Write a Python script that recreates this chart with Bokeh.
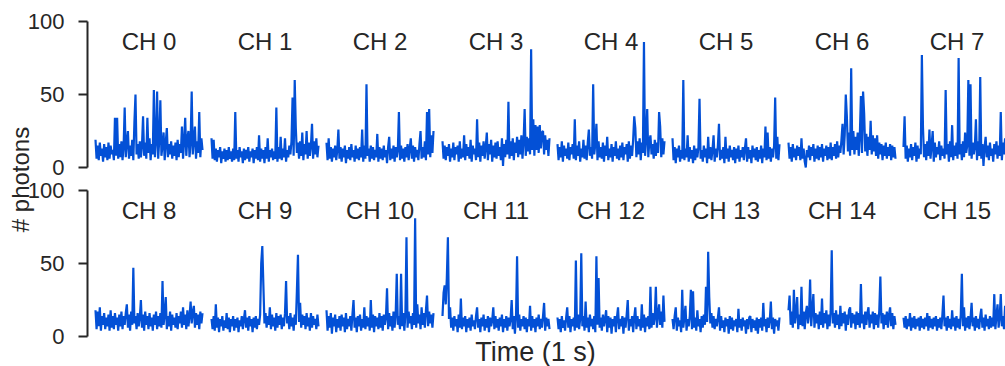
from bokeh.plotting import figure
from bokeh.models import Range1d, FixedTicker, Label, LinearAxis
from bokeh.embed import file_html
from bokeh.resources import INLINE

# ---------------- data (photon counts per time bin) ----------------
channels = ["CH 0", "CH 1", "CH 2", "CH 3", "CH 4", "CH 5", "CH 6", "CH 7",
            "CH 8", "CH 9", "CH 10", "CH 11", "CH 12", "CH 13", "CH 14", "CH 15"]

ch0 = [19, 6, 15, 5, 17, 8, 13, 4, 16, 7, 14, 5, 17, 6, 15, 9, 12, 5, 34, 8,
       34, 6, 16, 7, 18, 5, 14, 41, 7, 17, 25, 6, 15, 8, 19, 5, 31, 50, 9, 16,
       6, 18, 7, 15, 35, 8, 17, 6, 34, 10, 20, 5, 16, 9, 53, 7, 18, 52, 6, 19,
       46, 8, 15, 24, 5, 17, 27, 7, 16, 9, 18, 6, 15, 8, 17, 5, 19, 7, 16, 10,
       28, 6, 18, 34, 8, 20, 25, 7, 17, 52, 9, 19, 28, 6, 18, 10, 38, 7, 20, 12]
ch1 = [20, 6, 19, 5, 13, 4, 12, 7, 14, 3, 11, 6, 13, 4, 12, 5, 14, 6, 11, 4,
       13, 5, 38, 6, 12, 4, 14, 7, 11, 3, 13, 5, 12, 6, 14, 4, 11, 7, 13, 3,
       12, 6, 14, 5, 22, 4, 13, 6, 12, 3, 14, 6, 20, 4, 12, 7, 13, 5, 11, 6,
       41, 4, 14, 6, 21, 5, 13, 7, 20, 4, 12, 7, 15, 9, 18, 48, 8, 60, 27, 10,
       17, 6, 18, 8, 24, 5, 16, 9, 25, 6, 17, 8, 15, 30, 6, 18, 9, 20, 7, 15]
ch2 = [17, 5, 20, 6, 14, 4, 13, 7, 15, 5, 12, 26, 6, 14, 4, 13, 7, 15, 3, 12,
       6, 14, 5, 16, 7, 12, 4, 15, 6, 13, 5, 14, 7, 26, 4, 15, 6, 57, 8, 13,
       4, 15, 6, 14, 5, 12, 7, 23, 4, 14, 6, 13, 5, 15, 7, 12, 3, 14, 21, 5,
       13, 6, 15, 4, 14, 7, 12, 38, 5, 15, 6, 13, 4, 14, 7, 16, 5, 13, 20, 6,
       15, 4, 14, 7, 12, 5, 16, 25, 6, 14, 7, 18, 5, 38, 9, 40, 7, 22, 10, 25]
ch3 = [18, 6, 15, 5, 14, 8, 16, 4, 13, 7, 17, 5, 14, 9, 15, 4, 18, 6, 13, 7,
       22, 5, 16, 8, 14, 6, 19, 4, 15, 9, 13, 5, 33, 7, 17, 4, 15, 8, 18, 6,
       14, 24, 5, 16, 9, 19, 4, 15, 7, 17, 6, 18, 8, 14, 5, 20, 1, 16, 7, 19,
       9, 45, 6, 18, 8, 20, 5, 17, 10, 21, 7, 19, 9, 22, 6, 18, 40, 8, 21, 11,
       20, 9, 81, 12, 33, 8, 29, 12, 28, 10, 29, 13, 24, 25, 9, 22, 12, 19, 8, 20]
ch4 = [16, 5, 14, 7, 18, 4, 15, 8, 13, 6, 17, 5, 14, 9, 16, 6, 33, 5, 15, 8,
       18, 4, 13, 7, 19, 6, 15, 5, 17, 26, 8, 14, 6, 57, 9, 16, 30, 5, 18, 7,
       14, 6, 17, 4, 15, 8, 21, 5, 13, 7, 16, 4, 14, 8, 18, 6, 13, 5, 15, 7,
       17, 5, 14, 9, 16, 4, 18, 6, 15, 8, 19, 35, 27, 7, 18, 9, 20, 5, 17, 10,
       86, 8, 19, 40, 7, 18, 22, 9, 16, 6, 19, 8, 17, 10, 38, 28, 7, 20, 9, 18]
ch5 = [20, 5, 14, 3, 13, 7, 15, 4, 12, 6, 60, 5, 13, 7, 22, 4, 14, 6, 12, 3,
       15, 5, 13, 7, 14, 47, 6, 12, 4, 15, 7, 13, 3, 21, 6, 14, 5, 12, 22, 4,
       13, 7, 15, 30, 5, 12, 6, 14, 3, 21, 6, 13, 4, 15, 7, 12, 5, 14, 3, 13,
       6, 15, 4, 12, 7, 14, 5, 13, 20, 4, 14, 6, 12, 3, 15, 7, 13, 5, 14, 4,
       12, 6, 15, 3, 13, 7, 28, 5, 24, 6, 14, 4, 13, 7, 15, 48, 6, 21, 5, 16]
ch6 = [17, 6, 14, 4, 16, 7, 13, 5, 15, 8, 14, 5, 20, 6, 13, 4, 0, 12, 7, 15,
       5, 14, 8, 16, 4, 13, 6, 15, 5, 14, 7, 16, 4, 13, 8, 15, 5, 14, 6, 17,
       5, 14, 8, 16, 6, 18, 7, 15, 10, 19, 30, 9, 22, 50, 35, 11, 24, 8, 68, 12,
       25, 9, 21, 12, 24, 8, 22, 49, 10, 52, 37, 11, 23, 8, 21, 12, 32, 9, 22, 11,
       20, 8, 22, 6, 17, 9, 16, 5, 15, 8, 17, 6, 14, 8, 16, 5, 15, 7, 14, 6]
ch7 = [14, 35, 6, 15, 4, 13, 7, 16, 5, 14, 8, 17, 4, 15, 6, 13, 9, 77, 28, 7,
       16, 5, 18, 8, 26, 6, 15, 25, 4, 17, 7, 14, 9, 18, 5, 15, 8, 13, 6, 53,
       9, 16, 4, 18, 7, 29, 5, 15, 8, 17, 6, 75, 9, 16, 5, 18, 7, 24, 10, 15,
       60, 8, 57, 6, 17, 9, 14, 33, 5, 18, 8, 62, 6, 16, 1, 14, 21, 7, 15, 5,
       17, 8, 13, 4, 16, 9, 18, 6, 15, 8, 38, 5, 17, 9, 20, 7, 16, 8, 18, 6]
ch8 = [18, 5, 17, 7, 20, 4, 14, 8, 16, 5, 13, 7, 15, 4, 18, 6, 14, 5, 16, 8,
       13, 4, 15, 7, 17, 5, 14, 8, 16, 22, 6, 15, 4, 17, 8, 47, 9, 14, 5, 16,
       7, 13, 25, 6, 15, 4, 17, 8, 14, 5, 16, 7, 13, 4, 15, 8, 17, 5, 14, 7,
       16, 6, 38, 8, 15, 27, 5, 14, 7, 17, 4, 15, 8, 13, 6, 16, 5, 14, 9, 17,
       6, 20, 8, 15, 5, 18, 7, 14, 24, 9, 17, 21, 6, 16, 8, 15, 5, 17, 9, 16]
ch9 = [12, 5, 14, 4, 22, 6, 13, 3, 12, 7, 14, 4, 11, 6, 16, 5, 13, 3, 12, 7,
       14, 4, 12, 6, 13, 3, 11, 7, 14, 5, 12, 18, 6, 13, 4, 14, 7, 12, 3, 13,
       6, 14, 5, 12, 8, 15, 50, 62, 35, 9, 16, 6, 14, 8, 20, 5, 15, 7, 13, 4,
       16, 6, 14, 8, 15, 5, 13, 7, 16, 38, 9, 14, 5, 16, 7, 13, 4, 15, 8, 31,
       56, 10, 23, 6, 15, 8, 14, 5, 16, 7, 13, 4, 16, 6, 14, 8, 12, 5, 15, 7]
ch10 = [18, 4, 14, 6, 16, 2, 13, 7, 15, 3, 12, 6, 14, 4, 15, 7, 13, 3, 16, 5,
        12, 7, 14, 4, 15, 25, 6, 13, 3, 14, 7, 15, 4, 12, 6, 20, 5, 14, 7, 13,
        4, 25, 6, 15, 3, 14, 7, 13, 5, 16, 6, 14, 4, 15, 8, 13, 33, 5, 16, 7,
        14, 4, 17, 6, 15, 43, 8, 14, 5, 43, 7, 16, 4, 15, 68, 6, 17, 9, 14, 5,
        16, 8, 81, 6, 22, 9, 15, 5, 20, 8, 16, 6, 18, 28, 7, 17, 9, 15, 6, 16]
ch11 = [14, 30, 35, 22, 40, 68, 12, 20, 6, 13, 4, 14, 7, 12, 3, 15, 6, 26, 5, 13,
        7, 14, 3, 12, 6, 13, 4, 15, 7, 11, 5, 14, 20, 6, 12, 3, 13, 7, 15, 4,
        12, 6, 14, 3, 13, 7, 11, 20, 5, 14, 6, 12, 4, 13, 7, 15, 3, 12, 6, 14,
        4, 13, 7, 12, 25, 5, 14, 2, 13, 55, 6, 15, 4, 12, 7, 14, 5, 13, 3, 12,
        7, 21, 4, 14, 6, 12, 3, 13, 7, 15, 5, 12, 6, 14, 23, 4, 13, 7, 12, 5]
ch12 = [13, 5, 12, 3, 14, 6, 11, 4, 13, 20, 6, 14, 3, 12, 7, 13, 4, 52, 6, 15,
        5, 12, 57, 7, 14, 4, 24, 6, 13, 3, 15, 7, 12, 5, 14, 3, 55, 8, 40, 6,
        13, 4, 15, 7, 12, 18, 3, 14, 6, 13, 2, 12, 7, 14, 3, 13, 20, 5, 12, 7,
        14, 2, 13, 6, 15, 25, 4, 12, 7, 14, 3, 13, 20, 5, 14, 7, 12, 4, 22, 6,
        15, 3, 13, 7, 14, 5, 34, 6, 16, 8, 13, 34, 6, 15, 22, 8, 17, 6, 28, 10]
ch13 = [12, 5, 14, 20, 4, 13, 7, 11, 3, 32, 6, 13, 21, 4, 12, 7, 14, 32, 5, 31,
        6, 13, 4, 18, 7, 12, 3, 14, 6, 15, 8, 34, 10, 58, 27, 9, 16, 6, 14, 5,
        12, 7, 13, 20, 4, 14, 6, 11, 3, 13, 7, 12, 2, 14, 5, 13, 4, 11, 7, 12,
        3, 19, 6, 12, 4, 13, 7, 11, 2, 12, 5, 13, 14, 3, 12, 6, 11, 4, 13, 2,
        12, 6, 13, 4, 23, 7, 12, 3, 13, 6, 11, 24, 5, 13, 2, 12, 7, 11, 4, 13]
ch14 = [18, 28, 8, 17, 6, 32, 9, 16, 27, 5, 15, 8, 34, 7, 17, 5, 16, 21, 9, 15,
        39, 7, 18, 29, 6, 16, 9, 15, 5, 17, 8, 26, 6, 16, 9, 18, 5, 15, 7, 17,
        59, 9, 16, 6, 18, 8, 15, 5, 21, 7, 16, 9, 17, 4, 15, 8, 18, 20, 6, 16,
        9, 15, 5, 17, 8, 16, 6, 36, 9, 15, 5, 17, 8, 16, 20, 6, 15, 9, 17, 5,
        16, 8, 15, 6, 18, 41, 9, 16, 5, 15, 8, 17, 6, 15, 20, 7, 16, 5, 14, 8]
ch15 = [13, 6, 14, 5, 12, 7, 16, 4, 13, 6, 14, 5, 12, 7, 13, 4, 14, 6, 12, 5,
        13, 7, 16, 4, 14, 6, 12, 5, 13, 7, 14, 4, 12, 6, 13, 5, 15, 28, 7, 13,
        4, 14, 6, 12, 5, 18, 7, 13, 4, 14, 6, 12, 5, 15, 43, 7, 20, 4, 13, 6,
        14, 5, 12, 23, 7, 13, 4, 14, 6, 12, 5, 14, 19, 6, 13, 4, 15, 7, 12, 5,
        14, 6, 13, 7, 29, 5, 14, 22, 6, 13, 29, 7, 14, 5, 21, 8, 13, 6, 15, 7]

traces = [ch0, ch1, ch2, ch3, ch4, ch5, ch6, ch7,
          ch8, ch9, ch10, ch11, ch12, ch13, ch14, ch15]
y_ticks = [0, 50, 100]
x_label = "Time (1 s)"
y_label = "# photons"

# ---------------- style / layout (pixel geometry of the panel grid) ----------------
FONT = "Liberation Sans"
TXT = "#262626"
LINE = "#0350d6"

W, H = 1005, 366
col_left = [95, 211, 326, 442, 557, 672, 788, 903]   # px where each trace starts
DATA_W = 107                                          # px spanned by one trace
row_top = [21, 190]                                   # px of y = 100
row_zero = [167, 336]                                 # px of y = 0
AXIS_X = 87                                           # px of the y spines
TITLE_Y = 86.5

p = figure(width=W, height=H, output_backend="svg", toolbar_location=None, title=None,
           x_range=Range1d(0, W), y_range=Range1d(0, H),
           x_axis_type=None, y_axis_type=None,
           min_border_left=0, min_border_right=0, min_border_top=0, min_border_bottom=0)
p.grid.visible = False
p.outline_line_color = None
p.background_fill_color = "white"
p.border_fill_color = "white"

n = len(ch0)
upx = (n - 1) / DATA_W
for c, left in enumerate(col_left):
    p.extra_x_ranges[f"c{c}"] = Range1d(-left * upx, (W - left) * upx)
for r in range(2):
    s = (row_zero[r] - row_top[r]) / 100.0
    p.extra_y_ranges[f"r{r}"] = Range1d(-(H - row_zero[r]) / s, 100 + row_top[r] / s)

for r in range(2):
    ax = LinearAxis(y_range_name=f"r{r}", fixed_location=AXIS_X, bounds=(0, 100),
                    ticker=FixedTicker(ticks=y_ticks))
    ax.axis_line_color = TXT
    ax.axis_line_width = 2
    ax.major_tick_line_color = TXT
    ax.major_tick_line_width = 2
    ax.major_tick_out = 9
    ax.major_tick_in = 0
    ax.minor_tick_out = 0
    ax.minor_tick_in = 0
    ax.major_label_standoff = 14
    ax.major_label_text_font = FONT
    ax.major_label_text_font_size = "22px"
    ax.major_label_text_color = TXT
    p.add_layout(ax, "left")

for i, ys in enumerate(traces):
    r, c = divmod(i, 8)
    xs = list(range(len(ys)))
    p.line(xs, ys, line_color=LINE, line_width=2.2,
           x_range_name=f"c{c}", y_range_name=f"r{r}")
    p.add_layout(Label(x=(len(ys) - 1) / 2, y=TITLE_Y, text=channels[i],
                       x_range_name=f"c{c}", y_range_name=f"r{r}",
                       text_align="center", text_baseline="alphabetic",
                       text_font=FONT, text_font_size="24px", text_color=TXT))

p.add_layout(Label(x=19.5, y=H - 179, text=y_label, angle=90, angle_units="deg",
                   text_align="center", text_baseline="middle",
                   text_font=FONT, text_font_size="24px", text_color=TXT))
p.add_layout(Label(x=535, y=15, text=x_label, text_align="center",
                   text_baseline="middle",
                   text_font=FONT, text_font_size="27px", text_color=TXT))

open("out.html", "w").write(file_html(p, INLINE))
